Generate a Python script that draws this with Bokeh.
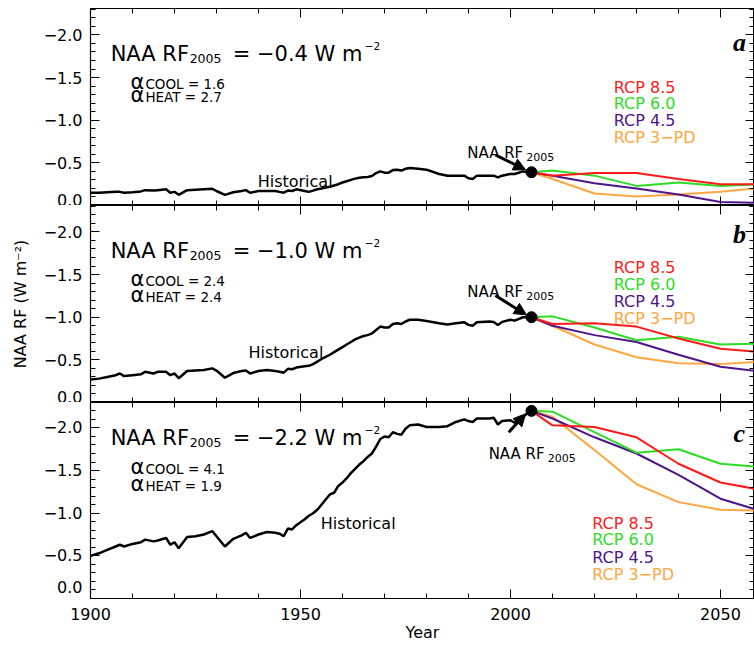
from bokeh.plotting import figure
from bokeh.models import (Range1d, FixedTicker, LinearAxis, CustomJSTickFormatter,
                          Label, Arrow, NormalHead)
from bokeh.layouts import column
from bokeh.embed import file_html
from bokeh.resources import INLINE

FONT = "DejaVu Sans"

# ---------------- data ----------------
hist_years = [1900, 1902, 1904, 1906, 1907, 1908, 1910, 1912, 1913, 1915,
              1916, 1918, 1919, 1920, 1921, 1923, 1925, 1927, 1929, 1930,
              1932, 1934, 1936, 1937, 1938, 1940, 1942, 1944, 1945, 1946,
              1947, 1948, 1949, 1951, 1952, 1953, 1954, 1955, 1956, 1957,
              1958, 1959, 1960, 1961, 1962, 1963, 1964, 1965, 1966, 1967,
              1968, 1969, 1970, 1971, 1972, 1973, 1974, 1975, 1976, 1978,
              1980, 1983, 1985, 1987, 1989, 1990, 1991, 1992, 1995, 1996,
              1997, 1998, 2000, 2001, 2003, 2004, 2005]

hist_a = [-0.15, -0.15, -0.155, -0.16, -0.16, -0.15, -0.155, -0.165, -0.18, -0.175,
          -0.18, -0.19, -0.15, -0.16, -0.125, -0.18, -0.185, -0.19, -0.195, -0.17,
          -0.125, -0.155, -0.17, -0.18, -0.15, -0.17, -0.17, -0.17, -0.16, -0.15,
          -0.175, -0.17, -0.19, -0.17, -0.16, -0.175, -0.19, -0.20, -0.21, -0.22,
          -0.235, -0.25, -0.27, -0.285, -0.30, -0.315, -0.325, -0.33, -0.335, -0.345,
          -0.38, -0.40, -0.385, -0.385, -0.415, -0.42, -0.41, -0.43, -0.44, -0.43,
          -0.42, -0.37, -0.35, -0.35, -0.35, -0.32, -0.31, -0.35, -0.35, -0.35,
          -0.33, -0.35, -0.37, -0.37, -0.40, -0.39, -0.39]

hist_b = [-0.27, -0.28, -0.30, -0.32, -0.34, -0.31, -0.32, -0.33, -0.36, -0.34,
          -0.36, -0.36, -0.32, -0.34, -0.285, -0.37, -0.375, -0.38, -0.40, -0.375,
          -0.29, -0.345, -0.37, -0.375, -0.34, -0.37, -0.38, -0.37, -0.36, -0.35,
          -0.395, -0.39, -0.41, -0.425, -0.43, -0.45, -0.48, -0.51, -0.535, -0.56,
          -0.59, -0.62, -0.65, -0.68, -0.71, -0.74, -0.76, -0.78, -0.79, -0.81,
          -0.85, -0.89, -0.88, -0.88, -0.92, -0.93, -0.92, -0.95, -0.97, -0.97,
          -0.955, -0.93, -0.915, -0.93, -0.94, -0.91, -0.90, -0.94, -0.95, -0.945,
          -0.91, -0.945, -0.97, -0.96, -1.00, -1.00, -1.00]

hist_c = [-0.50, -0.53, -0.57, -0.61, -0.63, -0.61, -0.64, -0.66, -0.69, -0.67,
          -0.68, -0.71, -0.63, -0.66, -0.59, -0.72, -0.73, -0.75, -0.79, -0.73,
          -0.61, -0.70, -0.74, -0.77, -0.71, -0.75, -0.78, -0.77, -0.76, -0.73,
          -0.82, -0.81, -0.86, -0.93, -0.97, -1.00, -1.04, -1.10, -1.16, -1.22,
          -1.24, -1.32, -1.36, -1.41, -1.47, -1.52, -1.57, -1.61, -1.66, -1.70,
          -1.78, -1.87, -1.90, -1.89, -1.95, -1.93, -1.92, -1.99, -2.03, -2.04,
          -2.01, -2.01, -2.02, -2.07, -2.10, -2.08, -2.07, -2.11, -2.11, -2.12,
          -2.04, -2.08, -2.09, -2.06, -2.13, -2.17, -2.20]

rcp_years = [2005, 2010, 2020, 2030, 2040, 2050, 2060]

rcp85_a = [-0.39, -0.35, -0.38, -0.38, -0.31, -0.25, -0.25]
rcp60_a = [-0.39, -0.41, -0.35, -0.23, -0.27, -0.23, -0.25]
rcp45_a = [-0.39, -0.35, -0.26, -0.20, -0.13, -0.04, -0.03]
rcp3pd_a = [-0.39, -0.31, -0.14, -0.105, -0.13, -0.16, -0.21]

rcp85_b = [-1.00, -0.92, -0.93, -0.89, -0.75, -0.63, -0.59]
rcp60_b = [-1.00, -1.01, -0.88, -0.73, -0.77, -0.68, -0.69]
rcp45_b = [-1.00, -0.90, -0.79, -0.71, -0.56, -0.42, -0.36]
rcp3pd_b = [-1.00, -0.90, -0.68, -0.53, -0.46, -0.45, -0.48]

rcp85_c = [-2.20, -2.03, -2.01, -1.89, -1.58, -1.36, -1.27]
rcp60_c = [-2.20, -2.19, -1.95, -1.71, -1.75, -1.58, -1.54]
rcp45_c = [-2.20, -2.11, -1.89, -1.70, -1.45, -1.17, -1.02]
rcp3pd_c = [-2.20, -2.13, -1.74, -1.34, -1.13, -1.04, -1.03]

scenario_names = ["RCP 8.5", "RCP 6.0", "RCP 4.5", "RCP 3\u2212PD"]
scenario_colors = ["#FF1A1A", "#2EDC24", "#4E1489", "#FFA640"]

rf2005_text = ["\u22120.4", "\u22121.0", "\u22122.2"]
alpha_cool = ["1.6", "2.4", "4.1"]
alpha_heat = ["2.7", "2.4", "1.9"]
panel_letters = ["a", "b", "c"]

x_major = [1900, 1950, 2000, 2050]
x_minor = list(range(1900, 2061, 10))
y_major = [-2.0, -1.5, -1.0, -0.5, 0.0]
y_minor = [round(-0.1 * k, 1) for k in range(0, 24)]

# -------------- annotation placement (data coords) --------------
title_y = [-1.778, -1.78, -1.876]
alpha_y1 = [-1.427, -1.43, -1.52]
alpha_y2 = [-1.27, -1.234, -1.317]
legend_x = [2024.6, 2024.6, 2019.45]
legend_y = [[-1.387, -1.192, -0.996, -0.793],
            [-1.583, -1.383, -1.184, -0.985],
            [-0.883, -0.688, -0.484, -0.281]]
hist_lab_x = [1939.8, 1937.6, 1954.8]
hist_lab_y = [-0.285, -0.59, -0.883]
naa_lab_x = [1989.7, 1989.7, 1994.8]
naa_lab_y = [-0.613, -1.293, -1.696]
arrow_pos = [((1996.4, -0.594), (2003.6, -0.418)),
             ((1996.4, -1.254), (2003.8, -1.028)),
             ((1999.6, -1.95), (2003.6, -2.165))]
letter_y = [-1.91, -1.97, -1.93]


def y_formatter(zero_text):
    return CustomJSTickFormatter(args=dict(z=zero_text), code="""
if (Math.abs(tick) < 1e-9) { return z; }
return (tick < 0 ? '\\u2212' : '') + Math.abs(tick).toFixed(1);
""")


BLANK_FMT = CustomJSTickFormatter(code="return '';")


def add_text(p, x, y, text, size, color="black", xoff=0, yoff=0, font=FONT,
             style="normal", align="left", baseline="alphabetic"):
    p.add_layout(Label(x=x, y=y, text=text, text_font_size=f"{size}px",
                       text_color=color, x_offset=xoff, y_offset=yoff,
                       text_font=font, text_font_style=style,
                       text_align=align, text_baseline=baseline))


def style_axis(ax, labels):
    ax.axis_line_color = "black"
    ax.axis_line_width = 1.2
    ax.major_tick_in = 9
    ax.major_tick_out = 0
    ax.minor_tick_in = 5
    ax.minor_tick_out = 0
    ax.major_tick_line_color = "black"
    ax.minor_tick_line_color = "black"
    ax.major_label_text_font = FONT
    ax.major_label_text_color = "black"
    if labels:
        ax.major_label_text_font_size = "16px"
        ax.major_label_standoff = 8
    else:
        ax.formatter = BLANK_FMT
        ax.major_label_text_font_size = "0px"
        ax.major_label_standoff = 0


def make_panel(i, hist_vals, rcps, top, bottom, fh, ytop):
    p = figure(frame_width=664, frame_height=fh,
               x_range=Range1d(1900, 2058.1), y_range=Range1d(0, ytop),
               output_backend="svg", toolbar_location=None,
               min_border_left=90, min_border_right=0,
               min_border_top=8 if top else 0, min_border_bottom=0)
    p.grid.grid_line_color = None
    p.outline_line_color = "black"
    p.background_fill_color = "white"
    p.border_fill_color = "white"

    bx = p.xaxis[0]
    bx.ticker = FixedTicker(ticks=x_major, minor_ticks=x_minor)
    style_axis(bx, bottom)
    if bottom:
        bx.major_label_standoff = 9
        bx.axis_label = "Year"
        bx.axis_label_text_font = FONT
        bx.axis_label_text_font_size = "16px"
        bx.axis_label_text_font_style = "normal"
        bx.axis_label_text_color = "black"
        bx.axis_label_standoff = 0

    ly = p.yaxis[0]
    ly.ticker = FixedTicker(ticks=y_major, minor_ticks=y_minor)
    style_axis(ly, True)
    ly.formatter = y_formatter("0.0\n" if bottom else "0.0")
    if i == 1:
        ly.axis_label = "NAA RF (W m\u207b\u00b2)"
        ly.axis_label_text_font = FONT
        ly.axis_label_text_font_size = "16px"
        ly.axis_label_text_font_style = "normal"
        ly.axis_label_text_color = "black"
        ly.axis_label_standoff = 11

    tx = LinearAxis(ticker=FixedTicker(ticks=x_major, minor_ticks=x_minor))
    style_axis(tx, False)
    p.add_layout(tx, "above")
    ry = LinearAxis(ticker=FixedTicker(ticks=y_major, minor_ticks=y_minor))
    style_axis(ry, False)
    p.add_layout(ry, "right")

    # scenario lines
    for vals, col in reversed(list(zip(rcps, scenario_colors))):
        p.line(rcp_years, vals, line_color=col, line_width=2)
    # historical
    p.line(hist_years, hist_vals, line_color="black", line_width=2.5)
    p.scatter([rcp_years[0]], [hist_vals[-1]], size=11, color="black")

    # arrow
    (xs, ys), (xe, ye) = arrow_pos[i]
    p.add_layout(Arrow(end=NormalHead(size=12, fill_color="black", line_color="black"),
                       x_start=xs, y_start=ys, x_end=xe, y_end=ye,
                       line_width=3, line_color="black"))

    # title
    tx0, ty0 = 1904.8, title_y[i]
    add_text(p, tx0, ty0, "NAA RF", 21)
    add_text(p, tx0, ty0, "2005", 12.5, xoff=79, yoff=-4.5)
    add_text(p, tx0, ty0, f"= {rf2005_text[i]} W m", 21, xoff=122)
    add_text(p, tx0, ty0, "\u22122", 10.5, xoff=254, yoff=8)

    # alphas
    ax0 = 1909.5
    add_text(p, ax0, alpha_y1[i], "\u03b1", 21, yoff=2)
    add_text(p, ax0, alpha_y1[i], f"COOL = {alpha_cool[i]}", 13.5, xoff=15)
    add_text(p, ax0, alpha_y2[i], "\u03b1", 21, yoff=2)
    add_text(p, ax0, alpha_y2[i], f"HEAT = {alpha_heat[i]}", 13.5, xoff=15)

    # legend
    for name, col, yy in zip(scenario_names, scenario_colors, legend_y[i]):
        add_text(p, legend_x[i], yy, name, 16, color=col)

    # Historical label
    add_text(p, hist_lab_x[i], hist_lab_y[i], "Historical", 16)

    # NAA RF2005 arrow label
    add_text(p, naa_lab_x[i], naa_lab_y[i], "NAA RF", 15)
    add_text(p, naa_lab_x[i], naa_lab_y[i], "2005", 11, xoff=59, yoff=-4)

    # panel letter
    add_text(p, 2054.5, letter_y[i], panel_letters[i], 26,
             font="Liberation Serif", style="bold italic", align="center")
    return p


pa = make_panel(0, hist_a, [rcp85_a, rcp60_a, rcp45_a, rcp3pd_a], True, False, 197, -2.31)
pb = make_panel(1, hist_b, [rcp85_b, rcp60_b, rcp45_b, rcp3pd_b], False, False, 197, -2.31)
pc = make_panel(2, hist_c, [rcp85_c, rcp60_c, rcp45_c, rcp3pd_c], False, True, 196, -2.298)

layout = column(pa, pb, pc, spacing=0)
open("out.html", "w").write(file_html(layout, INLINE))
